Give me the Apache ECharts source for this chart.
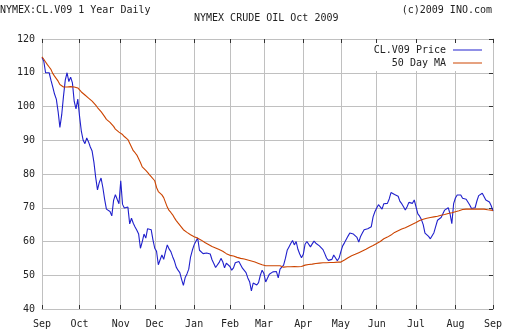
<!DOCTYPE html>
<html>
<head>
<meta charset="utf-8">
<script src="https://cdn.jsdelivr.net/npm/echarts@6/dist/echarts.min.js"></script>
<style>
html,body{margin:0;padding:0;background:#fff;}
#chart{width:512px;height:336px;}
</style>
</head>
<body>
<div id="chart"></div>
<script>
// Month labels on the trading-day axis and the trading-day index where each month starts
const monthLabels = ['Sep','Oct','Nov','Dec','Jan','Feb','Mar','Apr','May','Jun','Jul','Aug','Sep'];
const monthStartIdx = [0,21,44,63,85,105,124,146,167,187,209,231,252];

// y-axis ticks
const yMin = 40, yMax = 120, yStep = 10;

// CL.V09 daily settle price (one value per trading day)
const price = [
114.5,113.4,110,110,110,107.8,105.8,103.7,102.2,98.5,
93.8,97.5,103,107.8,110,107.4,108.7,107,101.5,99.3,
102.2,97,92.6,90.0,89.0,90.7,89.5,88.0,86.8,83.5,
79,75.3,77.5,78.8,76,72.5,69.6,69.2,68.9,67.6,
72.2,73.9,72.5,71.2,78,71,69.9,70.4,70.2,65.2,
66.9,65.4,64.3,63.3,62.2,58,59.9,62.2,61,63.8,
64,63.5,60.5,58,57.1,53.1,54.6,56,54.7,57,
59,57.8,57,55.5,54.2,52.4,51.5,50.8,48.8,47.0,
49.3,50.4,51.8,55.4,57.4,59,60.1,61,57.4,57,
56.4,55.9,56.6,56.8,56.3,54.6,53.5,52.3,52.1,53.8,
55,54,52.2,53.6,54.1,52.6,51.5,52.2,53.7,54.2,
54.1,53.6,52.1,52.1,50.8,49.2,48.1,45.4,47.7,47.3,
47.1,47.8,50,51.5,50.5,48.0,47.5,50.3,50.4,51,
51.1,51.1,49.2,51.8,52.1,53,55,57.4,58.4,59.4,
60.3,59.0,60,57.7,56.3,55.2,56.2,59.2,60,59.6,
58.4,59.3,60.1,59.5,59,58.7,58.5,57.6,56.4,55.1,
54.4,54.3,54.7,56,55.6,54.3,55.1,57,58.7,59.6,
59.5,61.6,62.5,62.2,62.2,62.2,61.2,59.8,61.5,62.5,
63.5,63.7,63.8,64,64.4,67.3,68.8,69.9,70.9,71,
69.6,71.2,71.2,71.3,72.6,74.5,74.4,73.9,73.8,73.4,
71.9,71.2,70.3,69.3,70.3,71.6,71.5,71.3,72.3,72.3,
68.2,67.5,66.5,65,62.5,62.1,61.5,60.8,60.3,62.6,
64.5,66.3,66.3,67.1,68.2,69.3,69.1,70,68.2,65.3,
71.2,72.9,73.8,74,73.8,72.8,72.5,72.5,72,70.8,
69.8,69.5,70,72,73.6,74,74.3,73.8,72.3,72.6,
71.7,70.6,69
];

// 50 day moving average (one value per trading day)
const ma50 = [
114.7,114.0,113.2,112.4,111.7,111.0,109.8,109.0,108.5,107.5,
106.5,106,105.8,105.7,105.8,105.9,105.9,105.9,105.8,105.7,
105.5,104.9,104.3,103.8,103.4,103.0,102.5,102.1,101.6,101.0,
100.4,99.7,99.1,98.5,98.0,97.0,96.2,95.7,95.3,94.9,
94.1,93.3,92.8,92.4,92.0,91.7,91.1,90.6,90.2,89.8,
88.0,86.9,86.3,85.6,84.5,83.4,82.1,81.6,81.1,80.5,
79.8,79.2,78.8,78.0,76.0,74.8,74.3,73.8,73.0,71.6,
70.2,69.2,68.6,67.9,67.0,66.2,65.5,65.0,64.2,63.5,
63.1,62.7,62.4,62.0,61.7,61.4,61.2,61.0,60.8,60.4,
60.0,59.7,59.4,59.1,58.8,58.5,58.3,58.1,57.9,57.6,
57.3,57.1,56.7,56.4,56.0,55.9,55.8,55.7,55.5,55.3,
55.1,55.0,54.9,54.8,54.6,54.5,54.3,54.2,54.1,53.9,
53.7,53.5,53.4,53.1,52.9,52.8,52.8,52.8,52.8,52.8,
52.8,52.8,52.8,52.8,52.7,52.4,52.5,52.5,52.5,52.5,
52.6,52.6,52.6,52.5,52.4,52.6,52.8,53.0,53.1,53.2,
53.3,53.3,53.4,53.5,53.5,53.6,53.6,53.7,53.7,53.7,
53.7,53.8,53.8,53.8,53.8,53.9,53.9,53.9,54.2,54.5,
54.8,55.2,55.6,55.8,56.0,56.2,56.4,56.7,57.0,57.2,
57.5,57.7,58.0,58.3,58.6,58.8,59.1,59.4,59.6,60.0,
60.4,60.8,61.0,61.3,61.6,61.9,62.3,62.7,63.0,63.2,
63.5,63.7,63.9,64.1,64.4,64.6,64.8,65.1,65.4,65.6,
65.9,66.2,66.5,66.6,66.8,66.9,67.0,67.1,67.2,67.3,
67.4,67.5,67.6,67.8,67.9,68.0,68.1,68.3,68.4,68.5,
68.6,68.8,68.9,69.1,69.3,69.5,69.6,69.6,69.6,69.6,
69.6,69.6,69.6,69.6,69.6,69.6,69.6,69.6,69.5,69.4,
69.3,69.3,69.2
];

const days = price.map((_, i) => String(i));
const isMonthStart = (i) => monthStartIdx.indexOf(i) >= 0;
const monthLabelAt = (i) => monthLabels[monthStartIdx.indexOf(i)];

const FONT = 'DejaVu Sans Mono';
const TXT = '#222';
const GRID = '#c0c0c0';
const TICK = '#333';

const chart = echarts.init(document.getElementById('chart'), null, {renderer: 'canvas'});
chart.setOption({
  animation: false,
  backgroundColor: '#fff',
  title: [
    {text: 'NYMEX:CL.V09 1 Year Daily', left: 0, top: 5, padding: 0,
     textStyle: {fontFamily: FONT, fontSize: 10, fontWeight: 'normal', color: TXT}},
    {text: 'NYMEX CRUDE OIL Oct 2009', left: 194, top: 13, padding: 0,
     textStyle: {fontFamily: FONT, fontSize: 10, fontWeight: 'normal', color: TXT}},
    {text: '(c)2009 INO.com', right: 20, top: 5, padding: 0,
     textStyle: {fontFamily: FONT, fontSize: 10, fontWeight: 'normal', color: TXT}}
  ],
  legend: {
    orient: 'vertical',
    right: 28,
    top: 43,
    align: 'right',
    itemWidth: 29,
    itemHeight: 1,
    itemGap: 1,
    icon: 'rect',
    padding: [1, 2, 2, 6],
    backgroundColor: '#fff',
    data: ['CL.V09 Price', '50 Day MA'],
    textStyle: {fontFamily: FONT, fontSize: 10, color: TXT, lineHeight: 12, padding: [0, 2, 0, 0]}
  },
  grid: {left: 42, right: 19, top: 39, bottom: 27, containLabel: false},
  xAxis: [
    {
      type: 'category', data: days, boundaryGap: false, position: 'bottom',
      axisLine: {show: true, lineStyle: {color: GRID, width: 1}},
      axisTick: {show: true, inside: true, length: 4, interval: (i) => isMonthStart(i), lineStyle: {color: TICK}},
      axisLabel: {show: true, interval: (i) => isMonthStart(i), formatter: (v, i) => monthLabelAt(i),
                  fontFamily: FONT, fontSize: 10, color: TXT, margin: 10},
      splitLine: {show: true, interval: (i) => isMonthStart(i), lineStyle: {color: GRID, width: 1}}
    },
    {
      type: 'category', data: days, boundaryGap: false, position: 'top',
      axisLine: {show: true, lineStyle: {color: GRID, width: 1}},
      axisTick: {show: true, inside: true, length: 4, interval: (i) => isMonthStart(i), lineStyle: {color: TICK}},
      axisLabel: {show: false},
      splitLine: {show: false}
    }
  ],
  yAxis: [
    {
      type: 'value', min: yMin, max: yMax, interval: yStep, position: 'left',
      axisLine: {show: true, lineStyle: {color: GRID, width: 1}},
      axisTick: {show: false},
      axisLabel: {fontFamily: FONT, fontSize: 10, color: TXT, margin: 7},
      splitLine: {show: true, lineStyle: {color: GRID, width: 1}}
    },
    {
      type: 'value', min: yMin, max: yMax, interval: yStep, position: 'right',
      axisLine: {show: true, lineStyle: {color: GRID, width: 1}},
      axisTick: {show: true, inside: true, length: 4, lineStyle: {color: TICK}},
      axisLabel: {show: false},
      splitLine: {show: false}
    }
  ],
  series: [
    {
      name: 'CL.V09 Price', type: 'line', data: price, xAxisIndex: 0, yAxisIndex: 0,
      showSymbol: false, symbol: 'none', color: '#2020cc',
      lineStyle: {color: '#2020cc', width: 1.1}
    },
    {
      name: '50 Day MA', type: 'line', data: ma50, xAxisIndex: 0, yAxisIndex: 0,
      showSymbol: false, symbol: 'none', color: '#cc4400',
      lineStyle: {color: '#cc4400', width: 1.1}
    }
  ]
});
</script>
</body>
</html>
